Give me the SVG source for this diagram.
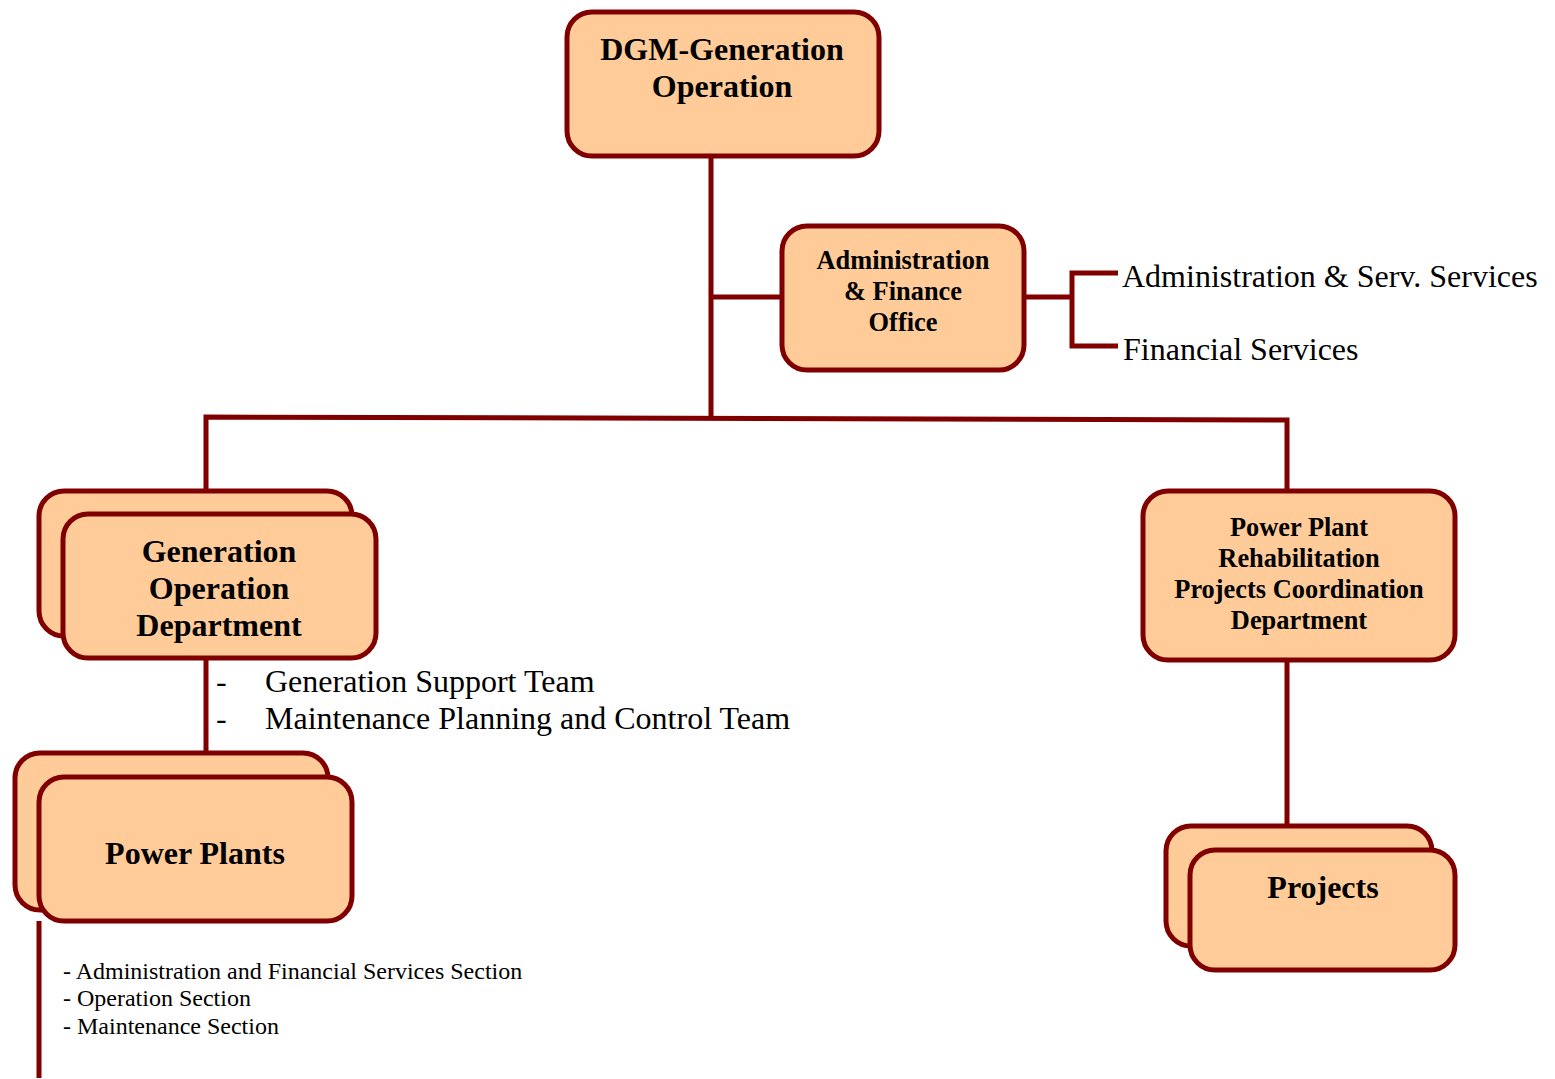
<svg xmlns="http://www.w3.org/2000/svg" width="1555" height="1079" viewBox="0 0 1555 1079">
<style>
.box{fill:#FFCC99;stroke:#800000;stroke-width:5}
.ln{fill:none;stroke:#800000;stroke-width:5}
.b{font-family:"Liberation Serif","Times New Roman",serif;font-weight:bold;fill:#000;text-anchor:middle}
.r{font-family:"Liberation Serif","Times New Roman",serif;fill:#000}
</style>
<rect width="1555" height="1079" fill="#fff"/>
<g id="connectors">
<path class="ln" d="M711 156V418"/>
<path class="ln" d="M711 297H782"/>
<path class="ln" d="M1024 297H1072"/>
<path class="ln" d="M1118 273H1072V346H1118"/>
<path class="ln" d="M206 491V417L1287 420V491"/>
<path class="ln" d="M206 658V753"/>
<path class="ln" d="M1287 660V826"/>
<path class="ln" d="M39 921V1078"/>
</g>
<g id="dgm">
<rect class="box" x="567" y="12" width="312" height="144" rx="25"/>
<text class="b" x="722" y="60" font-size="32">DGM-Generation</text>
<text class="b" x="722" y="97" font-size="32">Operation</text>
</g>
<g id="admin-finance">
<rect class="box" x="782" y="226" width="242" height="144" rx="25"/>
<text class="b" x="903" y="269" font-size="26.4">Administration</text>
<text class="b" x="903" y="300" font-size="26.4">&amp; Finance</text>
<text class="b" x="903" y="331" font-size="26.4">Office</text>
</g>
<g id="admin-services">
<text class="r" x="1122" y="287" font-size="32">Administration &amp; Serv. Services</text>
</g>
<g id="financial-services">
<text class="r" x="1123" y="360" font-size="32">Financial Services</text>
</g>
<g id="gen-op-dept">
<rect class="box" x="39" y="491" width="313" height="145" rx="25"/>
<rect class="box" x="63" y="514" width="313" height="144" rx="25"/>
<text class="b" x="219" y="562" font-size="32">Generation</text>
<text class="b" x="219" y="599" font-size="32">Operation</text>
<text class="b" x="219" y="636" font-size="32">Department</text>
</g>
<g id="gen-teams">
<text class="r" x="216" y="692" font-size="32">-</text>
<text class="r" x="265" y="692" font-size="32">Generation Support Team</text>
<text class="r" x="216" y="729" font-size="32">-</text>
<text class="r" x="265" y="729" font-size="32">Maintenance Planning and Control Team</text>
</g>
<g id="power-plants">
<rect class="box" x="15" y="753" width="313" height="157" rx="25"/>
<rect class="box" x="39" y="777" width="313" height="144" rx="25"/>
<text class="b" x="195" y="864" font-size="32">Power Plants</text>
</g>
<g id="pp-sections">
<text class="r" x="63" y="979" font-size="24">- Administration and Financial Services Section</text>
<text class="r" x="63" y="1006" font-size="24">- Operation Section</text>
<text class="r" x="63" y="1034" font-size="24">- Maintenance Section</text>
</g>
<g id="pprpc-dept">
<rect class="box" x="1143" y="491" width="312" height="169" rx="25"/>
<text class="b" x="1299" y="536" font-size="26.4">Power Plant</text>
<text class="b" x="1299" y="567" font-size="26.4">Rehabilitation</text>
<text class="b" x="1299" y="598" font-size="26.4">Projects Coordination</text>
<text class="b" x="1299" y="629" font-size="26.4">Department</text>
</g>
<g id="projects">
<rect class="box" x="1166" y="826" width="266" height="120" rx="25"/>
<rect class="box" x="1190" y="850" width="265" height="120" rx="25"/>
<text class="b" x="1323" y="898" font-size="32">Projects</text>
</g>
</svg>
